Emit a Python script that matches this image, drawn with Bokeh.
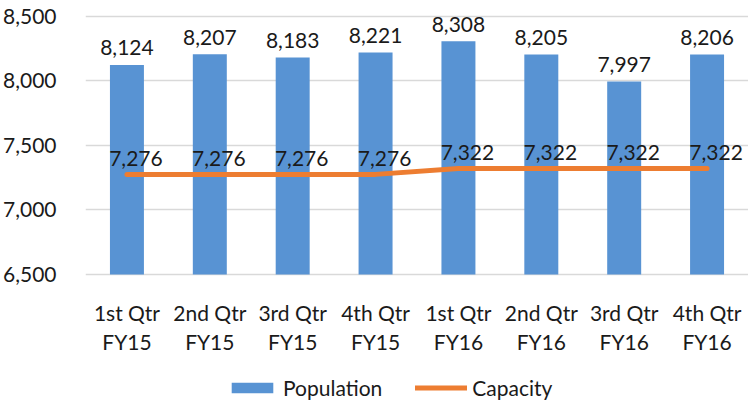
from bokeh.plotting import figure
from bokeh.models import ColumnDataSource, FactorRange, Legend, LegendItem, NumeralTickFormatter, FixedTicker
from bokeh.core.properties import value
from bokeh.embed import file_html
from bokeh.resources import INLINE

quarters = ["1st Qtr\nFY15", "2nd Qtr\nFY15", "3rd Qtr\nFY15", "4th Qtr\nFY15",
            "1st Qtr\nFY16", "2nd Qtr\nFY16", "3rd Qtr\nFY16", "4th Qtr\nFY16"]
population = [8124, 8207, 8183, 8221, 8308, 8205, 7997, 8206]
capacity = [7276, 7276, 7276, 7276, 7322, 7322, 7322, 7322]
y_ticks = [6500, 7000, 7500, 8000, 8500]
y_min = 6500

FONT = "Lato"
FS = "21px"
TXT = "#1a1a1a"

src = ColumnDataSource(dict(
    q=quarters, pop=population, cap=capacity,
    base=[y_min] * len(quarters),
    l1=[s.split("\n")[0] for s in quarters],
    l2=[s.split("\n")[1] for s in quarters],
    pop_lbl=[f"{v:,}" for v in population],
    cap_lbl=[f"{v:,}" for v in capacity],
))

# frame spans the whole figure height; the data range is extended downwards so the
# category labels and the legend sit under the 6,500 baseline
p = figure(x_range=FactorRange(*quarters, range_padding=0), y_range=(5523, 8624),
           width=748, height=400, output_backend="svg", toolbar_location=None,
           x_axis_location=None,
           min_border_left=85, min_border_right=0, min_border_top=0, min_border_bottom=0)
p.outline_line_color = None
p.background_fill_color = "white"
p.border_fill_color = "white"

bars = p.vbar(x="q", top="pop", bottom=y_min, width=0.41, source=src,
              fill_color="#5893D3", line_color=None)
line = p.line(x="q", y="cap", source=src, line_color="#ED7D31", line_width=5,
              line_cap="round", line_join="round")

p.text(x="q", y="pop", text="pop_lbl", source=src, text_align="center", text_baseline="alphabetic",
       y_offset=-17, text_font=value(FONT), text_font_size=FS, text_color=TXT)
p.text(x="q", y="cap", text="cap_lbl", source=src, text_align="center", text_baseline="alphabetic",
       x_offset=9, y_offset=-16, text_font=value(FONT), text_font_size=FS, text_color=TXT)

# category labels (two lines)
p.text(x="q", y="base", text="l1", source=src, text_align="center", text_baseline="alphabetic",
       y_offset=38, text_font=value(FONT), text_font_size=FS, text_color=TXT)
p.text(x="q", y="base", text="l2", source=src, text_align="center", text_baseline="alphabetic",
       y_offset=67, text_font=value(FONT), text_font_size=FS, text_color=TXT)

p.yaxis.ticker = FixedTicker(ticks=y_ticks)
p.yaxis.formatter = NumeralTickFormatter(format="0,0")
p.yaxis.axis_line_color = None
p.yaxis.major_tick_line_color = None
p.yaxis.minor_tick_line_color = None
p.yaxis.major_label_text_font = FONT
p.yaxis.major_label_text_font_size = FS
p.yaxis.major_label_text_color = TXT
p.yaxis.major_label_standoff = 23
p.xgrid.grid_line_color = None
p.ygrid.grid_line_color = "#D9D9D9"
p.ygrid.grid_line_width = 1.5

legend = Legend(items=[LegendItem(label="Population", renderers=[bars]),
                       LegendItem(label="Capacity", renderers=[line])],
                orientation="horizontal", location=(141, 0),
                label_text_font=FONT, label_text_font_size=FS, label_text_color=TXT,
                glyph_width=52, glyph_height=13, label_standoff=5, spacing=33,
                padding=0, margin=0, border_line_color=None, background_fill_alpha=0)
p.add_layout(legend, "center")

open("out.html", "w").write(file_html(p, INLINE))
